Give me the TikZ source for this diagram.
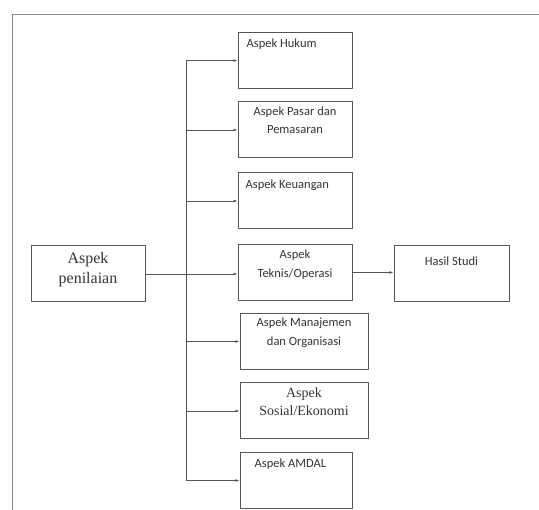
\documentclass[tikz,border=0pt]{standalone}
\usepackage{fontspec}
\setmainfont{Liberation Serif}
\setsansfont{Carlito}
\usetikzlibrary{arrows.meta}

\definecolor{garis}{HTML}{555555}
\definecolor{bingkaiabu}{HTML}{8C8C8C}
\definecolor{tinta}{HTML}{333333}

\begin{document}
\begin{tikzpicture}[x=1pt, y=-1pt, line join=round,
  kotak/.style={draw=garis, line width=1pt, inner sep=0pt, minimum width=114pt, minimum height=56pt},
  lebar/.style={minimum width=128pt},
  tengah/.style={anchor=north, yshift=-5pt, inner sep=0pt, align=center, text=tinta, font=\sffamily\fontsize{12.5}{18.5}\selectfont},
  kiri/.style={anchor=north west, yshift=-7pt, inner sep=0pt, text=tinta, font=\sffamily\fontsize{12.5}{18.5}\selectfont},
  serif/.style={font=\rmfamily\fontsize{14}{18.5}\selectfont},
  panah/.style={draw=garis, line width=0.9pt, -{Latex[length=4pt,width=3pt]}},
  garisan/.style={draw=garis, line width=0.9pt}]

  %% ════ bingkai luar (terpotong di kanan dan bawah) ════
  \draw[bingkaiabu, line width=1pt] (12,510) -- (12,15) -- (539,15);

  %% ════ kotak-kotak aspek ════
  \node[kotak, label={[tengah, serif, font=\rmfamily\fontsize{16}{19.5}\selectfont, yshift=-2pt]north:{Aspek\\penilaian}}] (nilai) at (88,274) {};
  \node[kotak, label={[kiri, xshift=9pt]north west:{Aspek Hukum}}] (hukum) at (295,60.5) {};
  \node[kotak, label={[tengah]north:{Aspek Pasar dan\\Pemasaran}}] (pasar) at (295,130) {};
  \node[kotak, label={[kiri, xshift=8pt]north west:{Aspek Keuangan}}] (keuangan) at (295,201) {};
  \node[kotak, label={[tengah, yshift=-1pt]north:{Aspek\\Teknis/Operasi}}] (teknis) at (295,272.5) {};
  \node[kotak, lebar, label={[tengah]north:{Aspek Manajemen\\dan Organisasi}}] (manajemen) at (304,341.5) {};
  \node[kotak, lebar, label={[tengah, serif]north:{Aspek\\Sosial/Ekonomi}}] (sosial) at (304,411) {};
  \node[kotak, minimum width=112pt, label={[kiri, xshift=15pt]north west:{Aspek AMDAL}}] (amdal) at (296,480.5) {};
  \node[kotak, minimum width=115pt, label={[tengah, yshift=-6pt]north:{Hasil Studi}}] (hasil) at (451.5,274) {};

  %% ════ penghubung ════
  \coordinate (bus) at (186,61);
  \draw[garisan] (bus |- hukum.west) -- (bus |- amdal.west);
  \foreach \n in {hukum,pasar,keuangan,manajemen,sosial,amdal}
    \draw[panah] (bus |- \n.west) -- (\n.west);
  \draw[panah] (nilai.east) -- (nilai.east -| teknis.west);
  \draw[panah] (teknis.east) -- (teknis.east -| hasil.west);

  % kanvas dikunci ke ukuran gambar acuan
  \pgfresetboundingbox
  \path[use as bounding box] (0,0) rectangle (539,510);
\end{tikzpicture}
\end{document}
